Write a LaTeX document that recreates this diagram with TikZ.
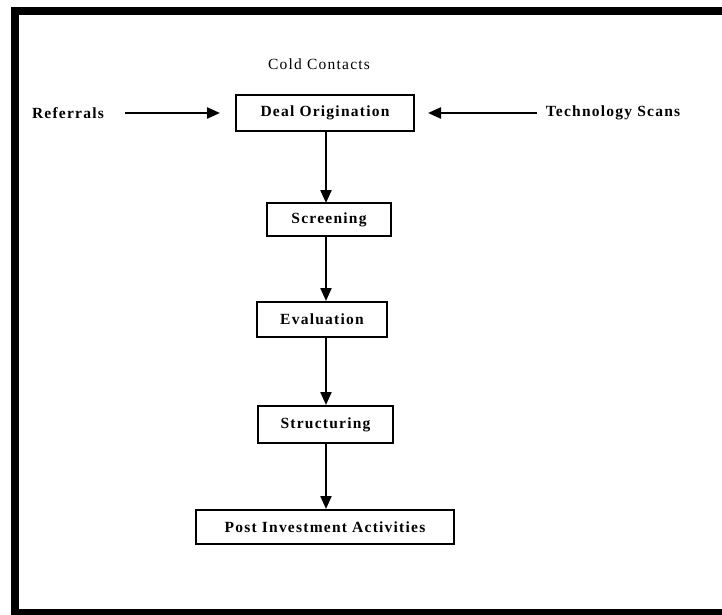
\documentclass[tikz,border=0pt]{standalone}
\usepackage{fontspec}
\newfontfamily\flowfont{Liberation Serif}[LetterSpace=8]
\usetikzlibrary{arrows.meta}
\begin{document}
\begin{tikzpicture}[x=1pt,y=-1pt,
  every node/.style={font=\flowfont\fontsize{15.5}{18}\selectfont},
  stage/.style={draw,line width=2pt,inner sep=0pt,minimum height=#1,
    font=\flowfont\bfseries\fontsize{15.5}{18}\selectfont},
  source/.style={inner sep=0pt,font=\flowfont\bfseries\fontsize{15.5}{18}\selectfont},
  flow/.style={line width=2.2pt,-{Triangle[length=13pt,width=11pt]}},
  frameband/.style={fill=black,draw=none}]
\useasboundingbox (0,0) rectangle (722,615);
% page frame
\fill[frameband] (11,7) rectangle (722,15);
\fill[frameband] (11,7) rectangle (19,613);
\fill[frameband] (11,609) rectangle (722,615);

% inputs
\node[inner sep=0pt] (cold) at (319,64) {Cold Contacts};
\node[source] (ref) at (68,113) {Referrals};
\node[source] (tech) at (613,113) {Technology Scans};

% stages
\node[stage=36pt,minimum width=178pt] (deal) at (325,113) {Deal Origination};
\node[stage=33pt,minimum width=124pt] (screen) at (329,219.5) {Screening};
\node[stage=35pt,minimum width=130pt] (eval) at (322,319.5) {Evaluation};
\node[stage=37pt,minimum width=135pt] (struct) at (325.5,424.5) {Structuring};
\node[stage=34pt,minimum width=258pt] (post) at (325,527) {Post Investment Activities};

% side inputs
\draw[flow,shorten <=21pt,shorten >=15pt] (ref.east) -- (deal.west);
\draw[flow,shorten <=9pt,shorten >=13pt] (tech.west) -- (deal.east);

% main sequence
\draw[flow] (326,131) coordinate (d1) -- (326,203) coordinate (s1);
\draw[flow] (screen.south -| d1) -- (eval.north -| d1);
\draw[flow] (eval.south -| d1) -- (struct.north -| d1);
\draw[flow] (struct.south -| d1) -- (post.north -| d1);
\end{tikzpicture}
\end{document}
